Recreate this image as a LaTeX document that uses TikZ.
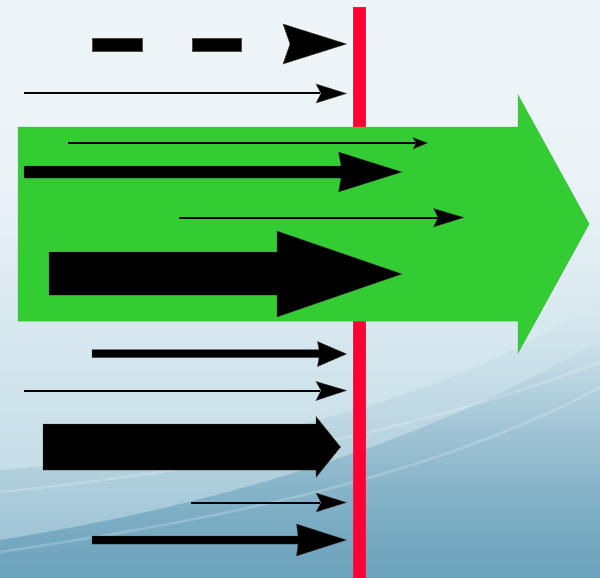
\documentclass[tikz,border=0pt]{standalone}
\usetikzlibrary{fadings}
\definecolor{bgtop}{HTML}{F4F8FB}
\definecolor{bgup}{HTML}{EBF3F7}
\definecolor{bgmid}{HTML}{C6DEE8}
\definecolor{bgbot}{HTML}{76AEC5}
\definecolor{deepblue}{HTML}{5E99B6}
\definecolor{arrgreen}{HTML}{33CC33}
\definecolor{linered}{HTML}{FF0035}
\pgfdeclareverticalshading{bgshade}{100bp}{color(0bp)=(bgbot); color(35bp)=(bgmid); color(60bp)=(bgup); color(100bp)=(bgtop)}
\tikzset{
  blackshape/.style={fill=black, draw=black!70, line width=0.4pt},
  thinshaft/.style={draw=black, line width=2pt},
  greenarrow/.style={fill=arrgreen, draw=arrgreen!80!gray, line width=0.5pt},
  redbar/.style={fill=linered, draw=linered!70!gray, line width=0.4pt},
  swoosh/.style={draw=white, opacity=0.2, line width=2.5pt}
}
\begin{document}
\begin{tikzpicture}[x=1pt,y=-1pt]
\useasboundingbox (0,0) rectangle (600,578);
% background
\shade[shading=bgshade] (0,0) rectangle (600,578);
\fill[deepblue, opacity=0.75, path fading=north] (0,540) .. controls (250,500) and (450,430) .. (600,340) -- (600,578) -- (0,578) -- cycle;
\fill[deepblue, opacity=0.3, path fading=north] (0,470) .. controls (250,450) and (450,400) .. (600,300) -- (600,578) -- (0,578) -- cycle;
\draw[swoosh] (0,492) .. controls (200,472) and (420,432) .. (600,362);
\draw[swoosh] (0,552) .. controls (200,522) and (430,480) .. (600,387);
% red bar
\path[redbar] (353,7) rectangle (365.5,578);
% green arrow
\path[greenarrow] (18,127) -- (518,127) -- (518,95) -- (589,224) -- (518,353) -- (518,321) -- (18,321) -- cycle;
% top dashed arrow
\path[blackshape] (92,38) rectangle (142,51);
\path[blackshape] (192,38) rectangle (241,51);
\path[blackshape] (283,24) -- (346.5,44) -- (283,64) -- (290,44) -- cycle;
% thin arrow y=93.5
\draw[thinshaft] (24,93.5) -- (320,93.5);
\path[blackshape] (316,84) -- (346.5,93.5) -- (316,103) -- (321,93.5) -- cycle;
% inside green
\draw[thinshaft] (68,143) -- (418,143);
\path[blackshape] (413,137.5) -- (427.5,143) -- (413,149) -- (416,143) -- cycle;
\path[blackshape] (24,166) -- (341,166) -- (338.5,152) -- (402,172) -- (338.5,192) -- (341,178) -- (24,178) -- cycle;
\draw[thinshaft] (179,217.5) -- (440,217.5);
\path[blackshape] (433.5,208.5) -- (464,217.5) -- (433.5,227) -- (438,217.5) -- cycle;
\path[blackshape] (49,252) -- (277,252) -- (277,231) -- (402,274) -- (277,317) -- (277,295) -- (49,295) -- cycle;
% below green
\path[blackshape] (92,349.5) -- (319,349.5) -- (317.5,341.5) -- (346.5,354) -- (317.5,366.5) -- (319,357.5) -- (92,357.5) -- cycle;
\draw[thinshaft] (24,390.5) -- (320,390.5);
\path[blackshape] (316,381.5) -- (346.5,390.5) -- (316,400.5) -- (321,390.5) -- cycle;
\path[blackshape] (43,424) -- (316,424) -- (316,416.5) -- (340.5,447) -- (316,477.5) -- (316,470) -- (43,470) -- cycle;
\draw[thinshaft] (191,502.5) -- (320,502.5);
\path[blackshape] (316,493) -- (346.5,502.5) -- (316,512) -- (321,502.5) -- cycle;
\path[blackshape] (92,536) -- (298,536) -- (296.5,524) -- (346.5,540) -- (296.5,556) -- (298,544) -- (92,544) -- cycle;
\end{tikzpicture}
\end{document}
